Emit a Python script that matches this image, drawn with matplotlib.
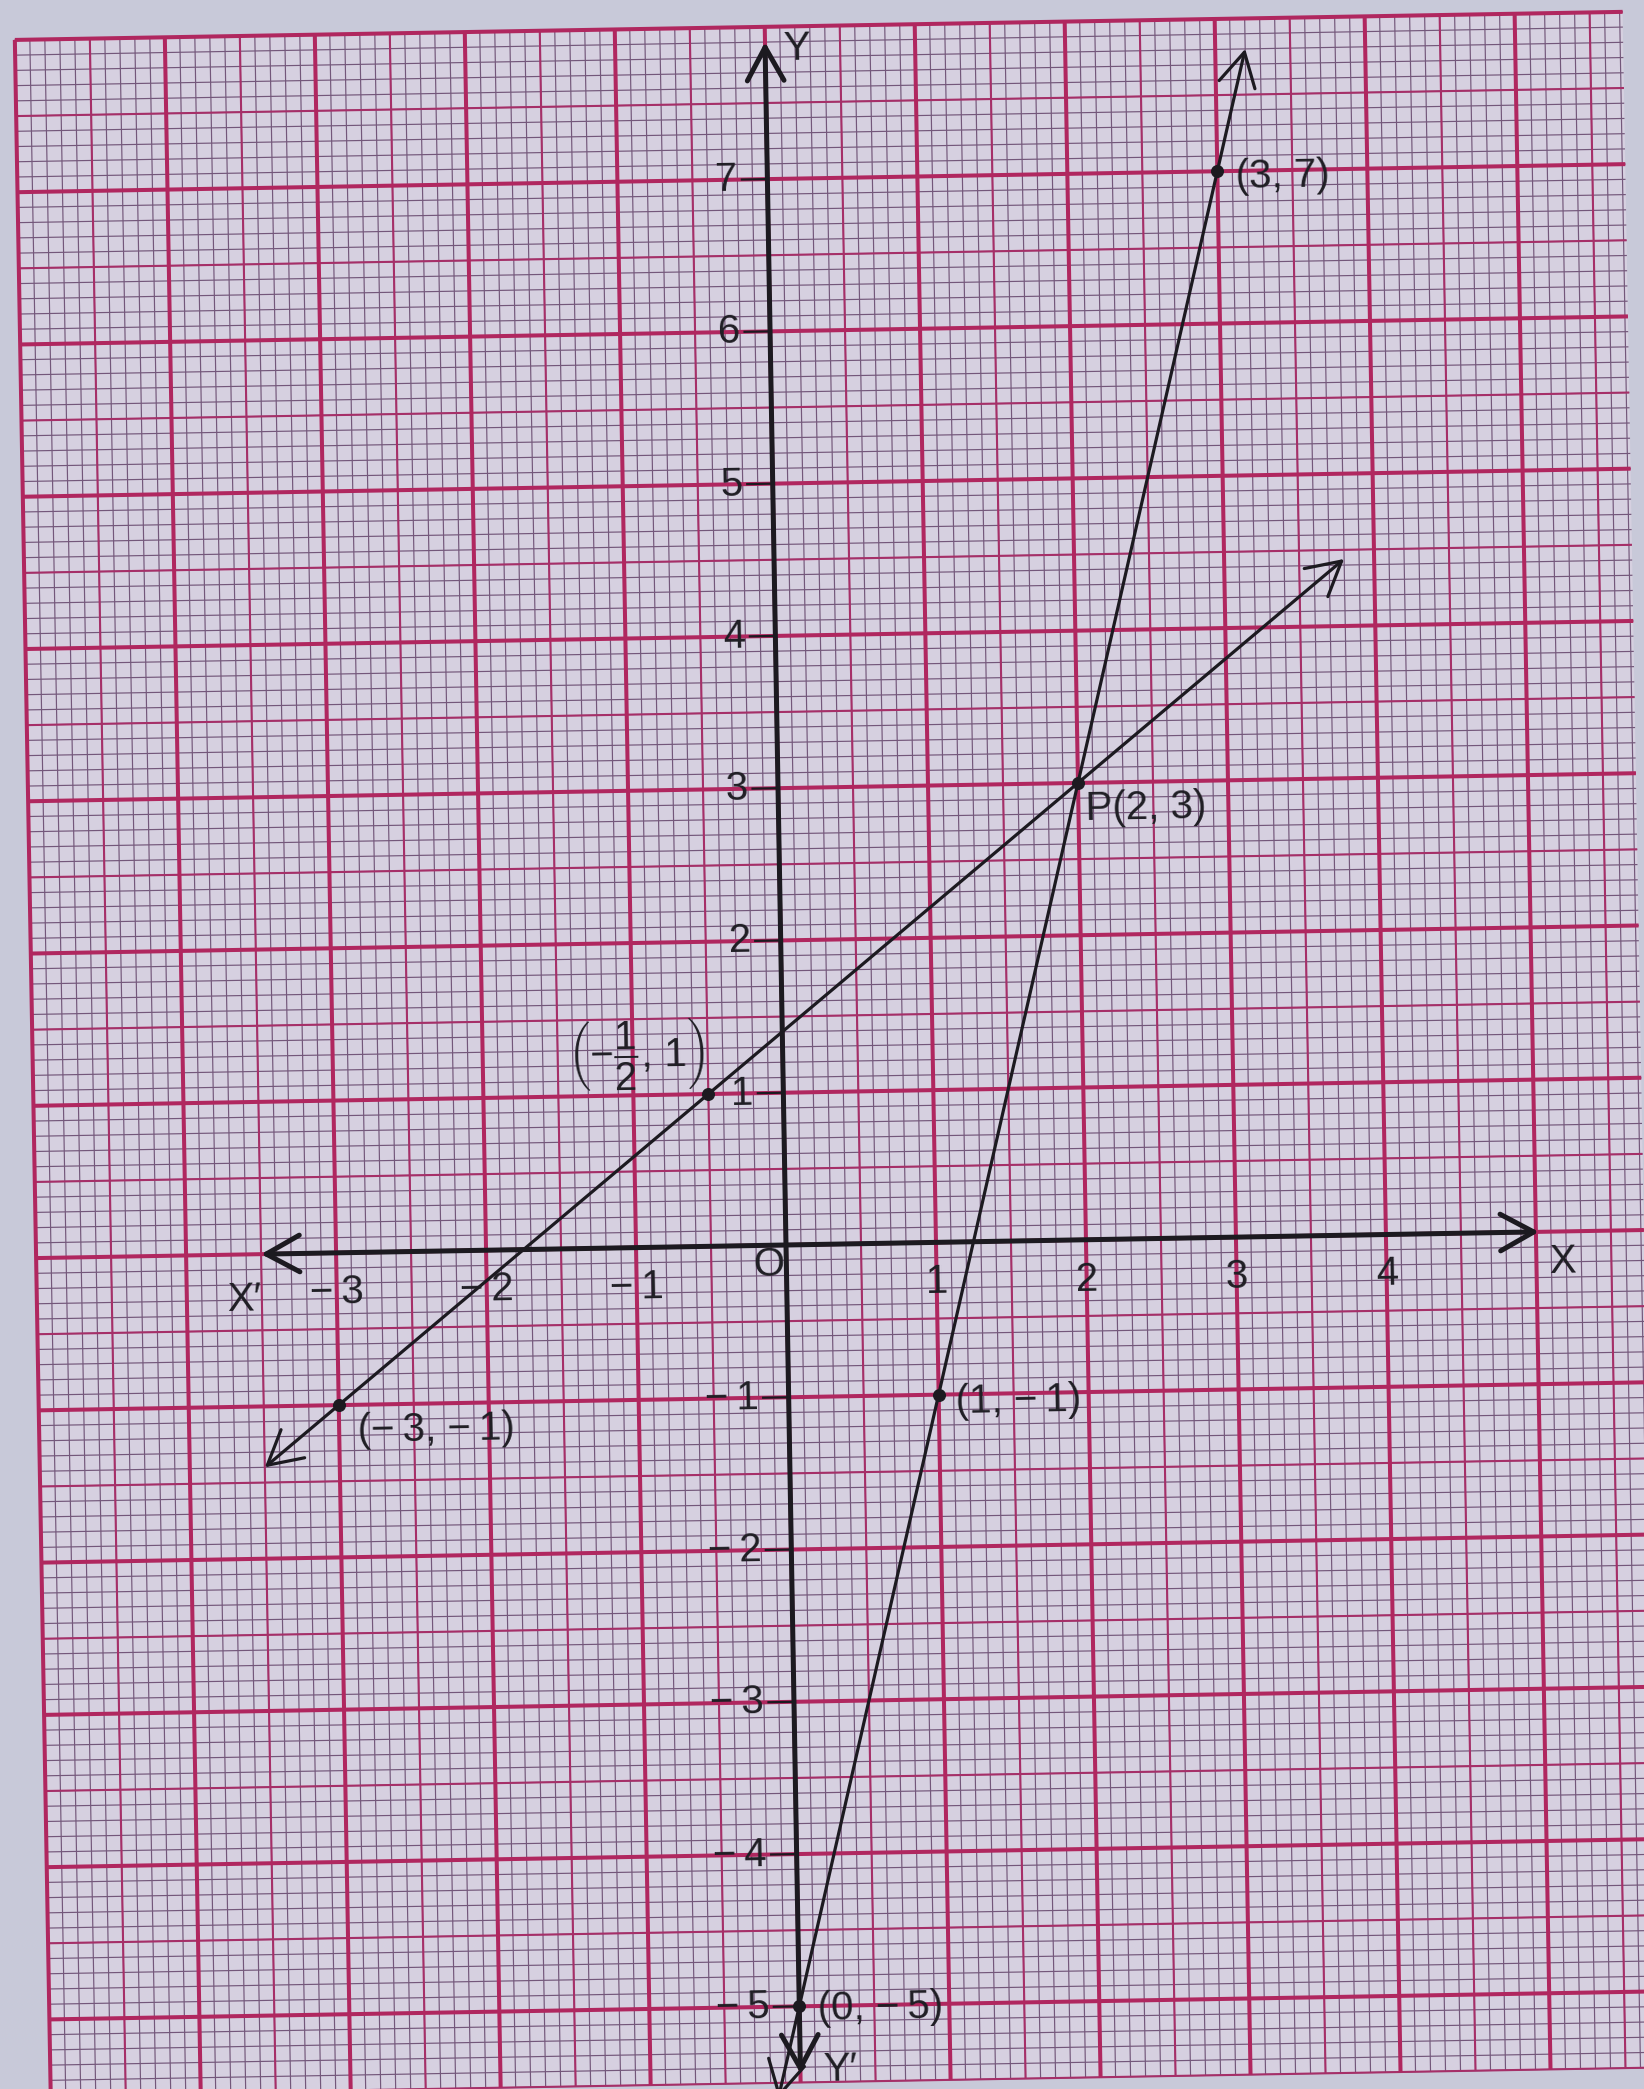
import matplotlib
matplotlib.use("Agg")
import matplotlib.pyplot as plt
from matplotlib.transforms import Affine2D
import numpy as np

plt.rcParams['font.family'] = ['Liberation Sans', 'DejaVu Sans']
plt.rcParams['mathtext.fontset'] = 'custom'
plt.rcParams['mathtext.rm'] = 'Liberation Sans'
plt.rcParams['mathtext.it'] = 'Liberation Sans'
plt.rcParams['mathtext.sf'] = 'Liberation Sans'

# --- data: the two lines and their plotted points ---
line1_x = [-3, -0.5, 2]
line1_y = [-1, 1, 3]
line1_ends = [-3.5, 3.8]          # x where the arrow heads sit

line2_x = [0, 1, 2, 3]
line2_y = [-5, -1, 3, 7]
line2_ends = [-0.15, 3.2]

point_x = [-3, -0.5, 2, 1, 3, 0]
point_y = [-1, 1, 3, -1, 7, -5]
point_labels = ['(−\u20093, −\u20091)', r'$\left(-\dfrac{1}{2},\,1\right)$', 'P(2, 3)',
                '(1, −\u20091)', '(3, 7)', '(0, −\u20095)']
label_offsets = [(0.12, -0.17), (-0.48, 0.27), (0.05, -0.17),
                 (0.11, -0.05), (0.12, -0.04), (0.12, -0.02)]
label_ha = ['left', 'center', 'left', 'left', 'left', 'left']

x_ticks = [-3, -2, -1, 1, 2, 3, 4]
y_ticks = [-5, -4, -3, -2, -1, 1, 2, 3, 4, 5, 6, 7]

# graph paper extent
paper_x = (-5.0, 5.72)
paper_y = (-5.5, 8.0)

margin_col = '#c8c9d9'
paper_col = '#d6d0e0'
ink = '#1c1a20'
text_col = '#1f1e24'
FS = 29


def num(v):
    return f'{v}'.replace('-', '−\u2009')


fig = plt.figure(figsize=(16.44, 20.89), dpi=100, facecolor=margin_col)
ax = fig.add_axes([0, 0, 1, 1])
ax.set_xlim(-5.24, 5.72)
ax.set_ylim(-5.542, 8.175)
ax.set_facecolor(margin_col)
ax.set_axis_off()

# the sheet sits about one degree off square
ox, oy = ax.transData.transform((0, 0))
tr = ax.transData + Affine2D().rotate_deg_around(ox, oy, 1.0)
ROT = 1.0

# paper sheet
ax.add_patch(plt.Rectangle((paper_x[0], paper_y[0]), paper_x[1] - paper_x[0],
                           paper_y[1] - paper_y[0], facecolor=paper_col,
                           edgecolor='none', zorder=0, transform=tr))

# millimetre grid: minor every 0.1, medium every 0.5, heavy every 1
def grid_lines(step, color, lw, z):
    xs = np.arange(np.ceil(paper_x[0] / step - 1e-9) * step, paper_x[1] + 1e-9, step)
    ys = np.arange(np.ceil(paper_y[0] / step - 1e-9) * step, paper_y[1] + 1e-9, step)
    ax.vlines(xs, paper_y[0], paper_y[1], colors=color, linewidth=lw, zorder=z, transform=tr)
    ax.hlines(ys, paper_x[0], paper_x[1], colors=color, linewidth=lw, zorder=z, transform=tr)

grid_lines(0.1, '#73577a', 0.85, 1)
grid_lines(0.5, '#a62f68', 1.5, 2)
grid_lines(1.0, '#b0275f', 2.9, 3)


def arrow(p0, p1, lw, z=6):
    ax.annotate('', xy=p1, xytext=p0, xycoords=tr, textcoords=tr,
                arrowprops=dict(arrowstyle='<->,head_length=0.6,head_width=0.33',
                                lw=lw, color=ink, mutation_scale=40,
                                shrinkA=0, shrinkB=0),
                zorder=z, annotation_clip=False)


def label(x, y, s, **kw):
    ax.text(x, y, s, fontsize=FS, color=text_col, transform=tr, rotation=ROT,
            rotation_mode='anchor', **kw)

# coordinate axes
arrow((-3.5, 0), (5.02, 0), 3.6)
arrow((0, -5.44), (0, 7.9), 3.6)

label(5.08, -0.2, 'X', ha='left', va='center')
label(-3.62, -0.3, 'X′', ha='center', va='center')
label(0.12, 7.85, 'Y', ha='left', va='center')
label(0.15, -5.42, 'Y′', ha='left', va='center')
label(-0.12, -0.13, 'O', ha='center', va='center')

for t in x_ticks:
    label(t, -0.26, num(t), ha='center', va='center', zorder=7)
for t in y_ticks:
    ax.plot([-0.17, 0], [t, t], color=ink, lw=1.6, zorder=6, transform=tr)
    label(-0.2, t, num(t), ha='right', va='center', zorder=7)

# the two lines, extended to their arrow heads
for xs, ys, ends in [(line1_x, line1_y, line1_ends), (line2_x, line2_y, line2_ends)]:
    m, c = np.polyfit(xs, ys, 1)
    e = np.array(ends)
    arrow((e[0], m * e[0] + c), (e[1], m * e[1] + c), 2.3)

ax.scatter(point_x, point_y, s=70, color=ink, zorder=8, transform=tr)
for px, py, lab, (dx, dy), ha in zip(point_x, point_y, point_labels, label_offsets, label_ha):
    label(px + dx, py + dy, lab, ha=ha, va='center', zorder=9)

fig.savefig('out.png', dpi=100, facecolor=margin_col)
